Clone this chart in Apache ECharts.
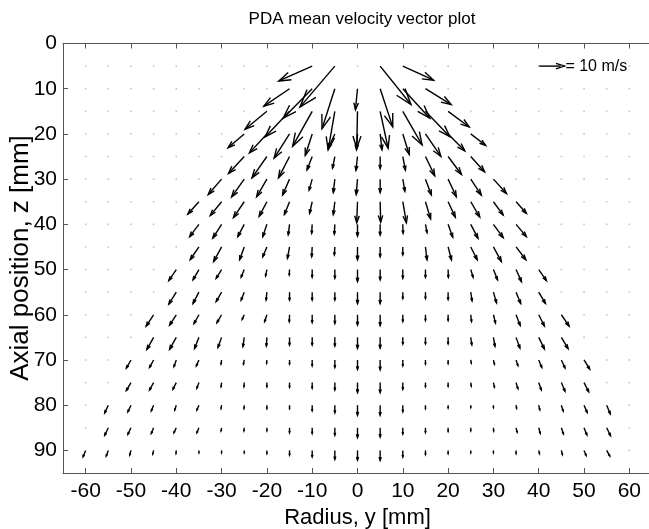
<!DOCTYPE html>
<html><head><meta charset="utf-8">
<script src="https://cdn.jsdelivr.net/npm/echarts@6/dist/echarts.min.js"></script>
<style>html,body{margin:0;padding:0;background:#fff}#c{width:649px;height:529px}</style>
</head><body><div id="c"></div>
<script>
// ---- grid of measurement stations ----
const zLevels = [5,10,15,20,25,30,35,40,45,50,55,60,65,70,75,80,85,90];
const xGrid = [-60,-55,-50,-45,-40,-35,-30,-25,-20,-15,-10,-5,0,5,10,15,20,25,30,35,40,45,50,55,60];
// first radial station (mm) carrying a vector in each row
const firstX = [-10,-15,-20,-25,-25,-30,-35,-35,-35,-40,-40,-45,-45,-50,-50,-55,-55,-60];

// radial (u) and axial (w) mean velocities, m/s, one pair of arrays per row
const u05 = [-13,-13.6,null,12,12];
const w05 = [5.8,16,null,15,5.5];
const u10 = [-10,-11.3,-5,-0.8,4.9,10.5,10];
const w10 = [6.8,11.5,15.6,8.2,14.9,11.5,6.2];
const u15 = [-8.5,-9.5,-7.6,-2.6,-0.3,3.1,7.5,9.5,8.2];
const w15 = [7,10,13.6,15,14.4,14.4,13.1,9.9,6.1];
const u20 = [-6.3,-6.8,-6,-2.7,-2.6,-0.4,0.7,2.5,6,6.5,5.8];
const w20 = [5.4,7.4,9.4,8.4,5.6,6.2,6.2,8,8.8,6.6,4.5];
const u25 = [-6.1,-5.8,-4.3,-2,-0.9,-0.6,0,1,3.6,5.2,5.4];
const w25 = [6.6,8.3,8.3,5.2,4.5,5.4,4.7,5.3,7.5,7,6];
const u30 = [-5.2,-4.9,-4,-2.7,-1.2,-0.6,-0.5,0,0.8,2.3,3.2,4.1,5.1];
const w30 = [6,6.9,6.9,6.2,4.3,5.2,6,5.2,4.7,6.2,6.9,6.2,5.6];
const u35 = [-4.3,-4.4,-4.2,-3,-2,-1,-0.6,-0.3,0.2,1.4,2,2.8,3.5,3.8,4];
const w35 = [4.8,5.4,6.2,5.7,5,4.5,5,8.2,8,8.2,6.7,6,6,5.2,4.5];
const u40 = [-3.6,-3.4,-2.5,-1.6,-0.5,-0.2,-0.2,0,0,0.1,0.6,1.8,2.8,3.8,4];
const w40 = [4.8,5.4,4.8,4.8,4.1,3.5,3.8,4.6,4.2,3.5,3.2,5,5.4,5.2,4.8];
const u45 = [-3.4,-3.1,-1.8,-1.6,-0.8,-0.2,-0.2,0,0,0,0.6,1.3,2.5,3.1,3.8];
const w45 = [5,5.7,5,3.8,4.4,3.8,3.1,5,3.8,3.1,5,5,5,5.7,5];
const u50 = [-2.9,-2.3,-2.1,-1.2,-0.5,-0.1,0,0,0,0,0,0,0.1,0.9,1.6,2.1,3];
const w50 = [4.3,4,3.4,3,2.5,2.1,3,3.4,4.7,4,3.4,3,3,3,4,4.7,4.3];
const u55 = [-2.9,-2.3,-2.1,-1.2,-0.3,0,0,0,0,0,0,0,0,0.5,1.2,1.8,2.6];
const w55 = [4.7,4.4,3.7,3.1,3.1,3.1,3.1,3.1,4.4,4.4,2.5,2.5,2.9,3.4,4.2,4.4,4.4];
const u60 = [-2.9,-2.6,-1.9,-1.8,-0.8,-0.9,-0.1,0,0,0,0,0,0,0,0.3,0.8,1.6,2.2,3];
const w60 = [4.4,4,3.4,3.1,1.8,2.7,2.7,3,3.4,4,4.2,2.6,2.2,2.2,2.6,3.2,4.2,4.4,4.4];
const u65 = [-2.6,-2.6,-1.7,-1.4,-0.5,-0.2,0,0,0,0,0,0,0,0,0.4,0.6,1.5,2.2,2.6];
const w65 = [4.7,4.7,4.3,3.9,3.6,3.4,3,3,3.4,4.3,4.2,2.6,2.5,2.5,2.9,3.5,4.2,4.5,4.4];
const u70 = [-1.8,-1.6,-0.9,-1,-0.2,-0.3,-0.1,0,0,0,0,0,0,0,0,0.2,0.4,0.7,1.2,1.4,2.2];
const w70 = [3.2,2.9,2.6,2.3,1.6,1.6,1.3,1.6,2.3,2.9,3.6,3.8,2.3,1.6,1.4,1.2,1.6,2.2,2.9,3.1,3.6];
const u75 = [-1.8,-1.6,-1.3,-0.8,-0.2,-0.1,0,0,0,0,0,0,0,0,0,0.2,0.4,0.7,1,1.4,1.8];
const w75 = [3.1,2.9,2.6,2.2,1.6,1.6,1.6,1.8,2.2,2.9,3.9,3.9,2.6,1.6,1.4,1.4,1.8,2.4,2.9,3.4,3.6];
const u80 = [-1.4,-1.2,-0.9,-0.6,-0.8,-0.2,-0.1,0,0,0,0,0,0,0,0,0,0,0,0.2,0.4,0.7,1.2,1.4];
const w80 = [3,2.6,2.2,1.9,1.9,1.3,1.3,1.3,1.3,2.2,3,3.9,3.9,2.6,1.3,1.1,0.9,0.9,1.2,1.8,2.3,2.8,3.4];
const u85 = [-1.4,-1.2,-0.9,-0.9,-0.8,-0.2,-0.1,0,0,0,0,0,0,0,0,0,0,0.1,0.4,0.6,0.8,1.1,1.5];
const w85 = [2.9,2.5,2.2,1.9,1.9,1.2,1.2,1.2,1.9,2.2,2.9,3.8,3.6,2.4,1.8,1.4,1.2,1.3,1.7,2.2,2.4,2.8,3.1];
const u90 = [-1,-0.8,-0.5,-0.3,-0.1,0,0,0,0,0,0,0,0,0,0,0,0,0,0,0,0.3,0.4,0.8,1.2];
const w90 = [2.5,2.2,1.8,1.4,1.2,0.9,0.9,0.9,1.2,1.8,2.5,3.5,3.8,3.9,2.6,1.6,1.2,0.9,0.9,1.2,1.2,1.6,2,2.2];

const uRows = [u05,u10,u15,u20,u25,u30,u35,u40,u45,u50,u55,u60,u65,u70,u75,u80,u85,u90];
const wRows = [w05,w10,w15,w20,w25,w30,w35,w40,w45,w50,w55,w60,w65,w70,w75,w80,w85,w90];

const xTicks = [-60,-50,-40,-30,-20,-10,0,10,20,30,40,50,60];
const zTicks = [0,10,20,30,40,50,60,70,80,90];
const refSpeed = 10;        // m/s, reference arrow
const refPos = [40, 5];     // where the reference arrow starts
const refLabel = '= 10 m/s';

// ---- build series data ----
const SCALE = 0.567; // mm of plot per m/s
const arrows = [], dots = [];
zLevels.forEach((z, r) => {
  xGrid.forEach(x => {
    const k = Math.round((x - firstX[r]) / 5);
    const row = uRows[r];
    if (k >= 0 && k < row.length && row[k] != null) arrows.push([x, z, row[k], wRows[r][k]]);
    else dots.push([x, z]);
  });
});

const FONT = 'Liberation Sans, Arial, sans-serif';
const LW = 1.4;

function arrowShapes(api, x, z, uu, ww) {
  const u = uu * SCALE, w = ww * SCALE, a = 0.33, b = 0.33;
  const p0 = api.coord([x, z]);
  const p1 = api.coord([x + u, z + w]);
  const h1 = api.coord([x + u - a * (u + b * w), z + w - a * (w - b * u)]);
  const h2 = api.coord([x + u - a * (u - b * w), z + w - a * (w + b * u)]);
  return [
    {type: 'line', shape: {x1: p0[0], y1: p0[1], x2: p1[0], y2: p1[1]}, style: {stroke: '#000', lineWidth: LW}},
    {type: 'polyline', shape: {points: [h1, p1, h2]}, style: {stroke: '#000', fill: null, lineWidth: LW}}
  ];
}

const chart = echarts.init(document.getElementById('c'), null, {renderer: 'canvas'});
chart.setOption({
  animation: false,
  backgroundColor: '#fff',
  title: {
    text: 'PDA mean velocity vector plot',
    left: 357, top: 6, textAlign: 'center',
    textStyle: {fontFamily: FONT, fontSize: 17, fontWeight: 'normal', color: '#000'}
  },
  graphic: [{
    type: 'text', x: 21, y: 258, rotation: Math.PI / 2, silent: true,
    style: {text: 'Axial position, z [mm]', fontFamily: FONT, fontSize: 26, fill: '#000',
      textAlign: 'center', textVerticalAlign: 'middle'}
  }],
  grid: {left: 63, right: -3, top: 43.5, bottom: 56, containLabel: false, outerBoundsMode: 'none'},
  xAxis: [{
    type: 'value', min: -65, max: 65, position: 'bottom',
    axisLine: {show: true, onZero: false, lineStyle: {color: '#555', width: 1}},
    axisTick: {show: true, inside: true, length: 5, customValues: xTicks, lineStyle: {color: '#555'}},
    axisLabel: {customValues: xTicks, fontFamily: FONT, fontSize: 21, color: '#000', margin: 8},
    splitLine: {show: false},
    name: 'Radius, y [mm]', nameLocation: 'middle', nameGap: 34,
    nameTextStyle: {fontFamily: FONT, fontSize: 22, color: '#000'}
  }, {
    type: 'value', min: -65, max: 65, position: 'top',
    axisLine: {show: true, onZero: false, lineStyle: {color: '#555', width: 1}},
    axisTick: {show: true, inside: true, length: 5, customValues: xTicks, lineStyle: {color: '#555'}},
    axisLabel: {show: false}, splitLine: {show: false}
  }],
  yAxis: [{
    type: 'value', min: 0, max: 95, inverse: true, position: 'left',
    axisLine: {show: true, onZero: false, lineStyle: {color: '#555', width: 1}},
    axisTick: {show: true, inside: true, length: 5, customValues: zTicks, lineStyle: {color: '#555'}},
    axisLabel: {customValues: zTicks, fontFamily: FONT, fontSize: 21, color: '#000', margin: 6},
    splitLine: {show: false}
  }, {
    type: 'value', min: 0, max: 95, inverse: true, position: 'right',
    axisLine: {show: true, onZero: false, lineStyle: {color: '#555'}},
    axisTick: {show: false}, axisLabel: {show: false}, splitLine: {show: false}
  }],
  series: [{
    type: 'scatter', data: dots, symbol: 'rect', symbolSize: 1.6,
    itemStyle: {color: '#b8b8b8'}, silent: true, xAxisIndex: 0, yAxisIndex: 0
  }, {
    type: 'custom', data: arrows, xAxisIndex: 0, yAxisIndex: 0, clip: false, silent: true,
    encode: {x: 0, y: 1},
    renderItem: (params, api) => ({
      type: 'group',
      children: arrowShapes(api, api.value(0), api.value(1), api.value(2), api.value(3))
    })
  }, {
    type: 'custom', data: [[refPos[0], refPos[1], refSpeed, 0]], xAxisIndex: 0, yAxisIndex: 0, clip: false, silent: true,
    encode: {x: 0, y: 1},
    renderItem: (params, api) => {
      const tip = api.coord([api.value(0) + api.value(2) * SCALE, api.value(1)]);
      const kids = arrowShapes(api, api.value(0), api.value(1), api.value(2), api.value(3));
      kids.push({type: 'text', x: tip[0] + 1, y: tip[1],
        style: {text: refLabel, fontFamily: FONT, fontSize: 16, fill: '#000', textAlign: 'left', textVerticalAlign: 'middle'}});
      return {type: 'group', children: kids};
    }
  }]
});
</script>
</body></html>
